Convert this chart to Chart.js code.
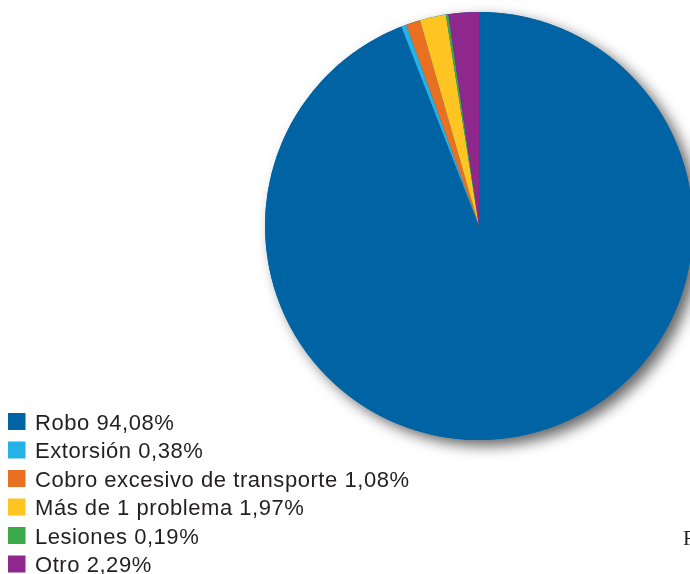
<!DOCTYPE html>
<html>
<head>
<meta charset="utf-8">
<script src="https://cdn.jsdelivr.net/npm/chart.js@4/dist/chart.umd.min.js"></script>
<style>
  html, body { margin: 0; padding: 0; background: #fff; overflow: hidden; }
  #wrap { position: absolute; left: 0; top: 0; width: 700px; height: 574px; }
</style>
</head>
<body>
<div id="wrap"><canvas id="chart" width="700" height="574"></canvas></div>
<script>
const categories = ["Robo", "Extorsión", "Cobro excesivo de transporte", "Más de 1 problema", "Lesiones", "Otro"];
const percents = [94.08, 0.38, 1.08, 1.97, 0.19, 2.29];
const sliceColors = ["rgb(0,99,164)", "rgb(38,178,230)", "rgb(232,112,32)", "rgb(253,196,34)", "rgb(60,170,74)", "rgb(142,40,140)"];

const fmt = v => v.toFixed(2).replace(".", ",") + "%";

// soft drop shadow behind the whole pie
const pieShadow = {
  id: "pieShadow",
  beforeDatasetsDraw(chart) {
    const arc = chart.getDatasetMeta(0).data[0];
    if (!arc) return;
    const ctx = chart.ctx;
    ctx.save();
    ctx.shadowColor = "rgba(0,0,0,0.6)";
    ctx.shadowBlur = 14;
    ctx.shadowOffsetX = 7;
    ctx.shadowOffsetY = 6;
    ctx.fillStyle = sliceColors[0];
    ctx.beginPath();
    ctx.arc(arc.x, arc.y, arc.outerRadius, 0, Math.PI * 2);
    ctx.fill();
    ctx.restore();
  }
};

// legend in the lower left corner, one row per category
const cornerLegend = {
  id: "cornerLegend",
  afterDraw(chart) {
    const ctx = chart.ctx;
    ctx.save();
    ctx.font = "22px 'Liberation Sans', Arial, sans-serif";
    ctx.letterSpacing = "0.55px";
    ctx.textBaseline = "alphabetic";
    categories.forEach((name, i) => {
      const base = 429.5 + i * 28.5;
      ctx.fillStyle = sliceColors[i];
      ctx.fillRect(8, base - 16.5, 17.5, 17);
      ctx.fillStyle = "#231f20";
      ctx.fillText(name + " " + fmt(percents[i]), 35, base);
    });
    // source note, cut at the edge
    ctx.letterSpacing = "0px";
    ctx.font = "21px 'Liberation Serif', serif";
    ctx.fillStyle = "#231f20";
    ctx.fillText("Fuente", 683, 545);
    ctx.restore();
  }
};

new Chart(document.getElementById("chart"), {
  type: "pie",
  data: {
    labels: categories,
    datasets: [{
      data: percents,
      backgroundColor: sliceColors,
      borderWidth: 0,
      hoverOffset: 0,
      radius: 214
    }]
  },
  options: {
    responsive: false,
    animation: false,
    layout: { padding: { left: 265, top: 12, right: 7, bottom: 134 } },
    plugins: {
      legend: { display: false },
      tooltip: { enabled: false }
    }
  },
  plugins: [pieShadow, cornerLegend]
});
</script>
</body>
</html>
